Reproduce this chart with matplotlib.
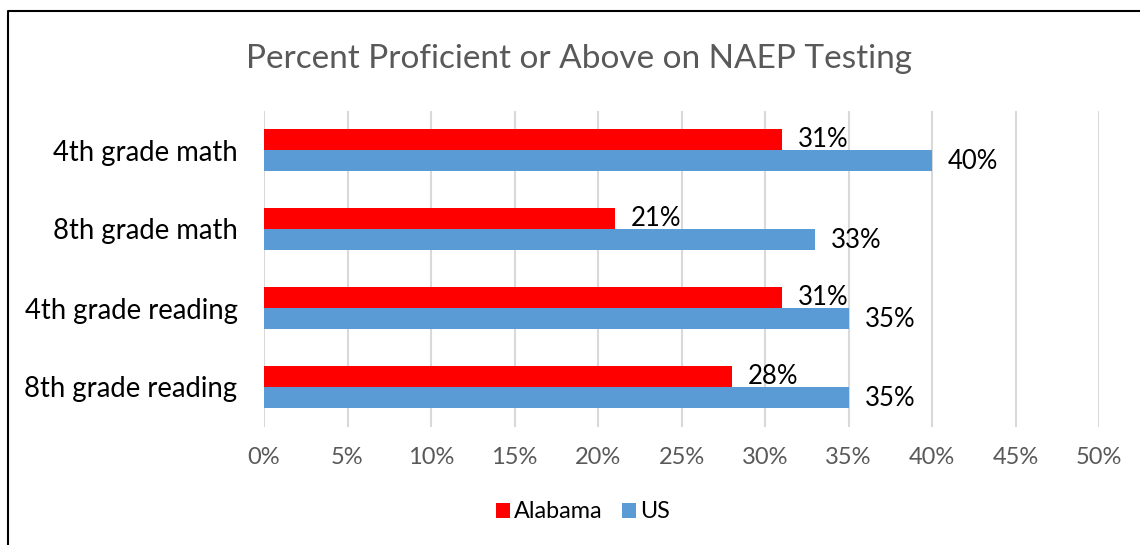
import matplotlib.pyplot as plt
import numpy as np

categories = ['4th grade math', '8th grade math', '4th grade reading', '8th grade reading']
alabama = [31, 21, 31, 28]
us = [40, 33, 35, 35]
ticks = [0, 5, 10, 15, 20, 25, 30, 35, 40, 45, 50]

plt.rcParams['font.family'] = ['Lato', 'DejaVu Sans']

fig = plt.figure(figsize=(11.4, 5.45), dpi=100)
ax = fig.add_axes([264 / 1140, 1 - 426.5 / 545, (1099 - 264) / 1140, 316 / 545])

y = np.arange(len(categories))
h = 0.26
ax.barh(y - h / 2, alabama, height=h, color='#FF0000', label='Alabama', zorder=3)
ax.barh(y + h / 2, us, height=h, color='#5B9BD5', label='US', zorder=3)

for yi, a, u in zip(y, alabama, us):
    ax.annotate(f'{a}%', (a, yi - h / 2), xytext=(16, 0), textcoords='offset pixels',
                va='center', ha='left', fontsize=18.5, color='black', zorder=4)
    ax.annotate(f'{u}%', (u, yi + h / 2), xytext=(16, -1), textcoords='offset pixels',
                va='center', ha='left', fontsize=18.5, color='black', zorder=4)

ax.set_ylim(3.5, -0.5)
ax.set_xlim(0, 50)
ax.set_xticks(ticks)
ax.set_xticklabels([f'{t}%' for t in ticks], fontsize=17, color='#595959')
ax.set_yticks(y)
ax.set_yticklabels(categories, fontsize=19.8, color='black')
ax.tick_params(axis='both', length=0)
ax.tick_params(axis='x', pad=15)
ax.tick_params(axis='y', pad=19)
ax.grid(axis='x', color='#D9D9D9', linewidth=1.5, zorder=0)
for s in ax.spines.values():
    s.set_visible(False)

fig.text(579 / 1140, 1 - 68 / 545, 'Percent Proficient or Above on NAEP Testing',
         ha='center', va='baseline', fontsize=24, color='#595959')

fig.legend(loc='center', bbox_to_anchor=(583 / 1140, 1 - 512 / 545), ncol=2, frameon=False,
           fontsize=16.8, handlelength=0.6, handleheight=0.6, handletextpad=0.2,
           columnspacing=0.8, labelcolor='black')

# chart border (top and left visible in the crop)
fig.add_artist(plt.Line2D([8 / 1140, 8 / 1140, 1.0], [0.0, 1 - 11 / 545, 1 - 11 / 545],
                          transform=fig.transFigure, color='black', linewidth=1.5))

fig.savefig('out.png', dpi=100)
